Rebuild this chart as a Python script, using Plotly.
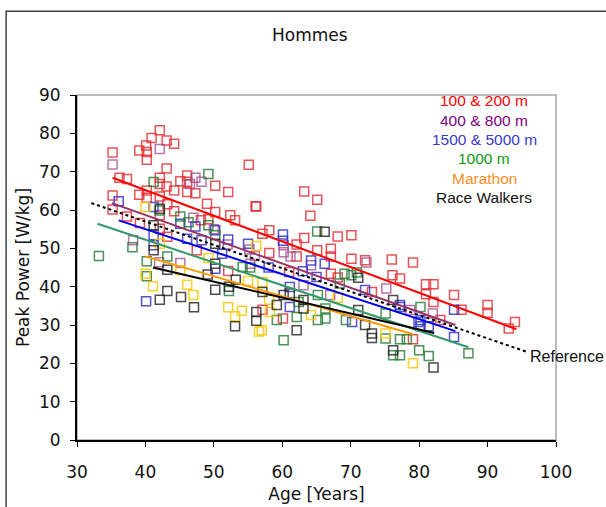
import plotly.graph_objects as go

# ---------------- data ----------------
red_x = [42.1,40.9,43.1,44.2,40.1,39.1,40.2,40.2,35.2,55.1,43.1,36.2,37.3,42.1,46.1,45.1,46.1,42.1,43.1,44.2,
         50.2,46.1,47.3,52.1,40.2,39.1,40.2,35.2,42.1,35.2,37.3,43.2,44.2,49.0,50.2,56.2,39.2,42.1,48.1,49.2,
         53.1,43.2,42.1,63.2,65.1,56.1,64.1,58.1,57.1,63.2,68.1,70.1,62.1,65.1,67.1,58.1,67.1,62.1,70.1,76.0,
         79.1,72.1,67.1,68.1,76.1,61.0,60.1,57.1,79.1,73.1,52.1,77.2,81.0,82.1,81.0,82.1,85.1,86.2,90.0,90.0,
         94.0,93.1,83.1,52.4,47.5]
red_y = [80.8,78.8,78.1,77.3,76.8,75.5,75.1,73.1,75.0,71.8,70.8,68.4,68.1,68.4,69.0,67.5,67.4,66.8,66.1,65.1,
         66.3,64.7,64.4,64.7,65.1,64.0,63.2,63.8,63.5,60.1,58.3,61.5,59.7,61.6,59.5,60.9,56.6,55.1,57.3,57.6,
         57.3,53.0,58.6,64.8,62.7,61.0,58.5,54.7,53.8,52.7,53.1,53.4,51.0,49.5,49.9,48.8,47.9,47.9,47.3,47.1,
         46.3,46.9,43.4,42.4,43.0,43.8,31.7,34.0,26.3,38.6,44.1,42.1,40.6,40.6,38.0,36.0,37.8,34.0,35.2,33.2,
         30.8,29.1,31.3,58.6,49.5]

purple_x = [35.2,42.1,47.3,48.2,38.2,46.5,60.2,60.2,61.2,55.2,64.2,63.1,67.0,75.2,55.3,72.3,78.7,42.0,45.1,
            47.0,50.0,52.0,56.0,82.0]
purple_y = [71.9,75.9,68.4,67.4,52.1,66.8,50.8,49.0,47.9,49.7,45.6,40.4,37.8,39.5,46.0,46.3,33.9,46.4,46.2,
            58.0,55.0,51.0,48.0,33.0]

blue_x = [36.1,41.2,47.3,46.1,41.2,50.2,52.1,45.1,48.2,41.2,55.0,51.2,60.1,60.1,64.2,66.2,65.0,61.1,61.1,
          72.1,77.2,79.9,70.2,85.1,85.1,80.2,80.2,81.4,77.2,40.1,50.2,58.0,63.0]
blue_y = [62.3,60.8,55.7,52.5,53.4,54.7,52.3,56.4,52.1,50.8,51.2,48.6,53.6,52.0,46.8,46.0,42.5,39.9,34.7,
          39.1,35.2,30.8,30.8,34.0,26.9,31.3,29.7,29.7,34.7,36.2,44.7,45.0,44.0]

green_x = [49.2,41.2,42.1,38.1,33.2,45.1,46.3,49.2,50.2,65.1,69.1,70.1,70.9,68.4,65.2,62.4,66.3,66.3,65.2,
           69.3,59.2,60.2,75.1,77.2,78.2,77.2,76.2,80.0,75.1,62.1,55.3,40.2,40.2,43.2,52.2,54.2,80.2,81.4,87.2]
green_y = [69.4,67.3,59.9,50.3,48.0,58.3,56.8,56.0,53.4,54.4,43.4,43.0,43.7,40.8,37.8,36.0,34.3,31.7,31.3,
           31.3,31.3,26.0,26.5,26.3,26.3,22.1,22.1,23.4,33.0,32.1,45.0,46.6,42.7,47.9,38.9,45.1,34.7,21.9,22.6]

marathon_x = [40.0,42.1,56.2,49.2,54.1,57.0,58.1,58.2,64.2,68.1,75.1,79.1,57.1,40.0,41.1,47.0,46.1,45.1,
              52.1,53.1,56.6,55.0]
marathon_y = [60.8,51.2,50.6,47.5,33.7,28.6,36.6,33.4,32.6,37.1,27.8,20.0,41.2,43.4,40.1,37.8,40.5,44.3,
              34.6,32.3,28.3,41.5]

walk_x = [41.2,42.1,50.2,41.2,66.2,71.1,71.1,72.1,73.1,73.1,76.2,76.2,63.1,63.1,62.1,61.1,60.2,59.2,56.2,
          56.2,57.1,43.2,42.1,45.2,47.1,43.2,49.1,50.2,50.2,52.2,53.1,53.2,82.1]
walk_y = [56.0,60.3,51.2,49.5,54.3,42.3,33.9,30.0,27.8,26.6,23.4,36.5,36.5,34.3,28.6,38.2,37.8,35.2,33.4,
          31.1,38.6,38.9,36.6,37.3,34.6,44.4,43.2,39.2,46.0,40.0,29.7,41.8,18.9]

# regression lines (start / end)
trend_red_x, trend_red_y = [35.2, 94.2], [68.4, 28.9]
trend_purple_x, trend_purple_y = [35.1, 85.3], [61.8, 30.0]
trend_blue_x, trend_blue_y = [36.1, 85.3], [57.3, 28.4]
trend_green_x, trend_green_y = [33.0, 87.2], [56.4, 24.2]
trend_marathon_x, trend_marathon_y = [40.0, 79.1], [47.9, 27.6]
trend_walk_x, trend_walk_y = [41.1, 82.2], [45.0, 27.9]
ref_x, ref_y = [32.1, 95.9], [61.8, 22.9]

legend_labels = ["100 & 200 m", "400 & 800 m", "1500 & 5000 m", "1000 m", "Marathon", "Race Walkers"]
legend_colors = ["#ff0000", "#800080", "#3b3bd0", "#109a10", "#ff8c1a", "#111111"]

x_ticks = [30, 40, 50, 60, 70, 80, 90, 100]
y_ticks = [0, 10, 20, 30, 40, 50, 60, 70, 80, 90]

# ---------------- figure ----------------
fig = go.Figure()

groups = [
    (red_x, red_y, "rgba(228,40,45,0.8)"),
    (purple_x, purple_y, "rgba(160,70,140,0.75)"),
    (blue_x, blue_y, "rgba(40,40,200,0.8)"),
    (green_x, green_y, "rgba(30,120,45,0.8)"),
    (marathon_x, marathon_y, "rgba(255,200,0,0.85)"),
    (walk_x, walk_y, "rgba(30,30,30,0.8)"),
]
for gx, gy, col in groups:
    fig.add_trace(go.Scatter(x=gx, y=gy, mode="markers",
                             marker=dict(symbol="square-open", size=9, color=col, line=dict(width=1.5, color=col)),
                             showlegend=False, hoverinfo="skip"))

trends = [
    (trend_red_x, trend_red_y, "#ff0000"),
    (trend_purple_x, trend_purple_y, "#993366"),
    (trend_blue_x, trend_blue_y, "#0000ee"),
    (trend_green_x, trend_green_y, "#339966"),
    (trend_marathon_x, trend_marathon_y, "#ff9900"),
    (trend_walk_x, trend_walk_y, "#000000"),
]
for tx, ty, col in trends:
    fig.add_trace(go.Scatter(x=tx, y=ty, mode="lines", line=dict(color=col, width=2),
                             showlegend=False, hoverinfo="skip"))

fig.add_trace(go.Scatter(x=ref_x, y=ref_y, mode="lines", line=dict(color="#000000", width=2, dash="dot"),
                         showlegend=False, hoverinfo="skip"))

# legend-like annotations
leg_y = [0.9835, 0.9255, 0.8696, 0.8145, 0.7574, 0.7023]
for lab, col, yy in zip(legend_labels, legend_colors, leg_y):
    fig.add_annotation(x=0.8497, y=yy, xref="paper", yref="paper", text=lab, showarrow=False,
                       xanchor="center", yanchor="middle",
                       font=dict(family="Liberation Sans, Arial", size=15.5, color=col))

fig.add_annotation(x=0.9415, y=0.2414, xref="paper", yref="paper", text="Reference", showarrow=False,
                   xanchor="left", yanchor="middle",
                   font=dict(family="Liberation Sans, Arial", size=16, color="#111111"))

fig.add_annotation(x=0.486, y=1.175, xref="paper", yref="paper", text="Hommes", showarrow=False,
                   xanchor="center", yanchor="middle",
                   font=dict(family="DejaVu Sans", size=17, color="#111111"))

# plot-area border (grey) and outer chart frame
fig.add_shape(type="rect", xref="paper", yref="paper", x0=0, x1=1, y0=0, y1=1,
              line=dict(color="#a6a6a6", width=1.5), layer="below")
fig.add_shape(type="rect", xref="paper", yref="paper", x0=-0.148, x1=1.3, y0=-0.5, y1=1.243,
              line=dict(color="#404040", width=1.5), layer="below")

fig.update_layout(
    width=606, height=507,
    margin=dict(l=77, r=50, t=95, b=67),
    paper_bgcolor="white", plot_bgcolor="white",
    font=dict(family="DejaVu Sans", size=17, color="#111111"),
    xaxis=dict(range=[30, 100], tickvals=x_ticks, showgrid=False, zeroline=False,
               showline=True, linecolor="black", linewidth=1.5, automargin=False,
               ticks="outside", ticklen=5, tickcolor="black", tickwidth=1.2,
               ticklabelstandoff=11,
               title=dict(text="Age [Years]", font=dict(size=17), standoff=7)),
    yaxis=dict(range=[0, 90], tickvals=y_ticks, showgrid=False, zeroline=False,
               showline=True, linecolor="black", linewidth=2, automargin=False,
               ticks="outside", ticklen=5, tickcolor="black", tickwidth=1.2,
               ticklabelstandoff=6,
               title=dict(text="Peak Power [W/kg]", font=dict(size=17), standoff=5)),
)

fig.write_html("out.html", config={"displayModeBar": False},
               post_script="document.body.style.margin='0px';document.body.style.overflow='hidden';")
